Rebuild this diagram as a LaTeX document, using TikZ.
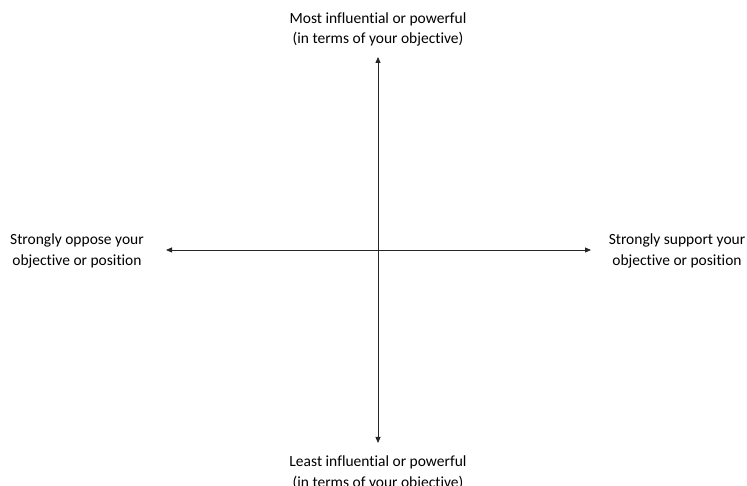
\documentclass[tikz,border=0pt]{standalone}
\usepackage{fontspec}
\setmainfont[Ligatures=NoCommon]{Carlito}
\usetikzlibrary{arrows.meta}
\begin{document}
\begin{tikzpicture}[x=1pt,y=1pt,
  axis/.style={draw=black!85, line width=0.8pt, {Triangle[length=6pt,width=5pt]}-{Triangle[length=6pt,width=5pt]}},
  lbl/.style={align=center, font=\fontsize{15.5}{20.5}\selectfont, inner sep=0pt}]
\useasboundingbox (0,0) rectangle (747,486);
\node[lbl] (top) at (378,456.5) {Most influential or powerful\\(in terms of your objective)};
\node[lbl] (bot) at (378,13) {Least influential or powerful\\(in terms of your objective)};
\node[lbl] (lft) at (77,235) {Strongly oppose your\\objective or position};
\node[lbl] (rgt) at (677,235) {Strongly support your\\objective or position};
\coordinate (t) at (378,429);
\coordinate (b) at (378,43);
\coordinate (l) at (166,236);
\coordinate (r) at (591,236);
\draw[axis] (b) -- (t);
\draw[axis] (l) -- (r);
\end{tikzpicture}
\end{document}
